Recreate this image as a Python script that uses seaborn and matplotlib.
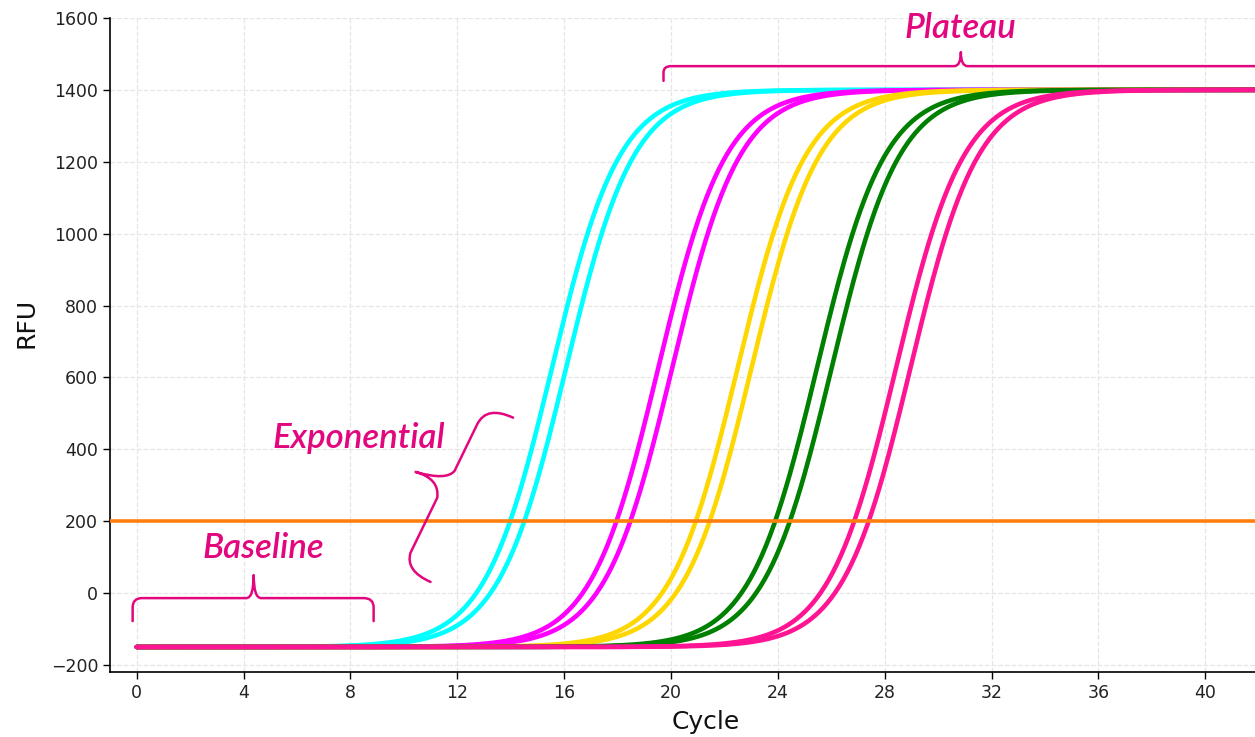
import numpy as np
import pandas as pd
import seaborn as sns
from matplotlib import pyplot as plt
from matplotlib.path import Path
from matplotlib.patches import PathPatch

# amplification curves: threshold-crossing cycle (Ct) read at RFU=200
ct_values = [13.98, 14.51, 17.96, 18.48, 20.93, 21.45, 23.90, 24.45, 26.86, 27.40]
well_names = ['A1', 'A2', 'B1', 'B2', 'C1', 'C2', 'D1', 'D2', 'E1', 'E2']
well_colors = ['#00FFFF', '#00FFFF', '#FF00FF', '#FF00FF', '#FFD700', '#FFD700',
               '#008000', '#008000', '#FF1493', '#FF1493']
baseline_rfu = -150
plateau_rfu = 1400
growth_rate = 0.79
threshold_rfu = 200
cycles = np.linspace(0, 42, 841)

xticks = [0, 4, 8, 12, 16, 20, 24, 28, 32, 36, 40]
yticks = [-200, 0, 200, 400, 600, 800, 1000, 1200, 1400, 1600]

ANNOT = '#E2077E'

rows = []
span = plateau_rfu - baseline_rfu
logit_thr = np.log((threshold_rfu - baseline_rfu) / (plateau_rfu - threshold_rfu))
for name, ct in zip(well_names, ct_values):
    mid = ct - logit_thr / growth_rate
    rfu = baseline_rfu + span / (1 + np.exp(-growth_rate * (cycles - mid)))
    rows.append(pd.DataFrame({'Cycle': cycles, 'RFU': rfu, 'well': name}))
df = pd.concat(rows, ignore_index=True)

sns.set_style('white')
plt.rcParams['font.family'] = ['DejaVu Sans']

fig = plt.figure(figsize=(12.55, 7.37), dpi=100)
ax = fig.add_axes([0.0876, 0.088, 0.9124, 0.8876])

sns.lineplot(data=df, x='Cycle', y='RFU', hue='well',
             palette=dict(zip(well_names, well_colors)),
             estimator=None, linewidth=3.3, legend=False, ax=ax)
ax.axhline(threshold_rfu, color='#FF7F0E', linewidth=2.6, zorder=5)

ax.set_xlim(-1, 41.86)
ax.set_ylim(-220, 1600)
ax.set_xticks(xticks)
ax.set_yticks(yticks)
ax.grid(True, linestyle='--', color='#e6e6e6', linewidth=0.9)
ax.set_axisbelow(True)
sns.despine(ax=ax)
for s in ['left', 'bottom']:
    ax.spines[s].set_color('black')
    ax.spines[s].set_linewidth(1.2)
ax.tick_params(axis='both', direction='out', length=5, width=1, labelsize=12.5,
               colors='black', labelcolor='#222222', left=True, bottom=True)
ax.set_xlabel('Cycle', fontsize=18, color='#111111')
ax.set_ylabel('RFU', fontsize=18, color='#111111')
ax.xaxis.set_label_coords(0.52, -0.058)
ax.yaxis.set_label_coords(-0.062, 0.534)

# annotations: braces and labels
def brace(verts, codes):
    p = PathPatch(Path(verts, codes), fill=False, edgecolor=ANNOT,
                  linewidth=1.8, capstyle='round', joinstyle='round', zorder=6)
    ax.add_patch(p)

M, L, C = Path.MOVETO, Path.LINETO, Path.CURVE3

brace([(19.72, 1425), (19.72, 1448), (19.72, 1466), (20.0, 1466),
       (30.6, 1466), (30.85, 1466), (30.85, 1505), (30.85, 1466), (31.1, 1466),
       (43, 1466)],
      [M, L, C, C, L, C, C, C, C, L])

brace([(-0.15, -78), (-0.15, -40), (-0.15, -14), (0.2, -14),
       (4.1, -14), (4.38, -14), (4.38, 50), (4.38, -14), (4.66, -14),
       (8.5, -14), (8.87, -14), (8.87, -40), (8.87, -78)],
      [M, L, C, C, L, C, C, C, C, L, C, C, L])

brace([(14.09, 488), (13.1, 522), (12.75, 470), (11.9, 340), (11.6, 312), (10.44, 337),
       (11.35, 318), (11.25, 265), (10.25, 112), (10.05, 62), (11.0, 31)],
      [M, C, C, L, C, C, C, C, L, C, C])

txt = dict(color=ANNOT, fontsize=25, fontstyle='italic', fontweight='semibold',
           family=['Lato', 'DejaVu Sans'], ha='center', va='center', zorder=7)
ax.text(30.85, 1572, 'Plateau', clip_on=False, **txt)
ax.text(8.3, 432, 'Exponential', **txt)
ax.text(4.75, 125, 'Baseline', **txt)

fig.savefig('out.png', dpi=100)
